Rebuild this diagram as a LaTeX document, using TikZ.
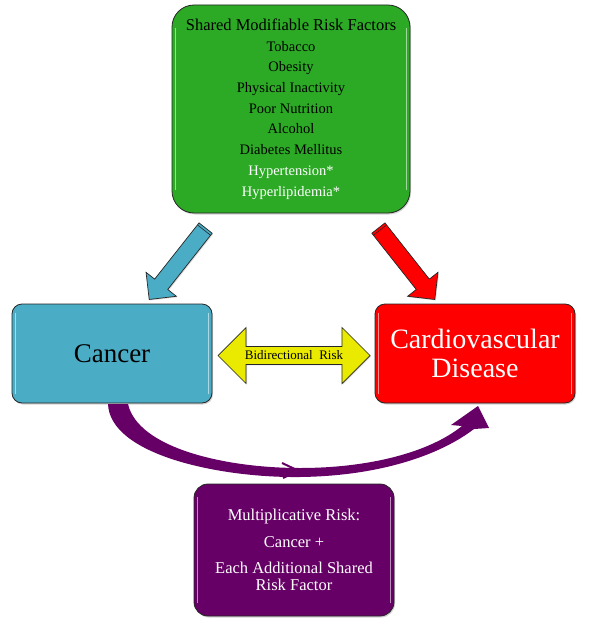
\documentclass[tikz,border=0pt]{standalone}
\usepackage{fontspec}
\setmainfont{Liberation Serif}
\usetikzlibrary{shapes.arrows,shadows,calc}
\definecolor{gr}{RGB}{44,170,38}
\definecolor{bl}{RGB}{75,172,198}
\definecolor{rd}{RGB}{255,0,0}
\definecolor{pu}{RGB}{102,0,102}
\definecolor{yl}{RGB}{234,234,0}
\begin{document}
\begin{tikzpicture}[x=1pt,y=-1pt,
  box/.style={draw=black!85, line width=0.8pt, rounded corners=#1,
    drop shadow={opacity=0.35,shadow xshift=1pt,shadow yshift=-1.5pt},
    align=center, inner sep=0pt},
  hl/.style={white, opacity=0.55, line width=1.6pt, line cap=round},
  blockarrow/.style={draw=black!85, line width=0.7pt, inner sep=0pt,
    drop shadow={opacity=0.3,shadow xshift=1pt,shadow yshift=-1pt}}]
\useasboundingbox (0,0) rectangle (590,626);

% boxes
\node[box=22, fill=gr, minimum width=238pt, minimum height=208pt,
  font=\fontsize{14.5}{20.7}\selectfont] (risk) at (291,109)
  {{\fontsize{16.5}{20.7}\selectfont Shared Modifiable Risk Factors}\\
   Tobacco\\Obesity\\Physical Inactivity\\Poor Nutrition\\Alcohol\\Diabetes Mellitus\\
   \textcolor{white}{Hypertension*}\\\textcolor{white}{Hyperlipidemia*}};

\node[box=10, fill=bl, minimum width=200pt, minimum height=99pt,
  font=\fontsize{27}{30}\selectfont] (cancer) at (112,353.5) {Cancer};

\node[box=10, fill=rd, text=white, minimum width=200pt, minimum height=99pt,
  font=\fontsize{28}{29}\selectfont] (cvd) at (475,353.5) {Cardiovascular\\Disease};

\node[box=14, fill=pu, text=white, minimum width=200pt, minimum height=132pt,
  font=\fontsize{16.5}{17}\selectfont] (mult) at (294,550)
  {Multiplicative Risk:\\[10pt]Cancer +\\[9pt]Each Additional Shared\\Risk Factor};

% gloss highlights
\foreach \n/\r in {risk/24,cancer/10,cvd/10,mult/14}{
  \draw[hl] ([xshift=4pt,yshift=-\r pt]\n.north west) -- ([xshift=4pt,yshift=\r pt]\n.south west);
  \draw[hl] ([xshift=-4pt,yshift=-\r pt]\n.north east) -- ([xshift=-4pt,yshift=\r pt]\n.south east);
}

% block arrows
\node[blockarrow, single arrow, fill=bl, minimum height=91pt, inner ysep=8pt,
  single arrow head extend=11pt, rotate=231.7] (a1) at (180,260.5) {};
\node[blockarrow, single arrow, fill=rd, minimum height=91pt, inner ysep=8pt,
  single arrow head extend=11pt, rotate=308.3] (a2) at (404,260.5) {};
\foreach \a in {a1,a2}{
  \draw[black!85, line width=0.6pt] ($(\a.after tail)!3pt!(\a.after head)$) -- ($(\a.before tail)!3pt!(\a.before head)$);
}

\node[blockarrow, double arrow, fill=yl, minimum height=152pt, minimum width=56pt,
  double arrow head extend=10.5pt, font=\fontsize{13}{15}\selectfont] (bi) at (294,355.5)
  {Bidirectional\ \ Risk};

% curved multiplicative arrow
\fill[pu] (108,404) .. controls (110,455) and (220,478) .. (300,477)
  .. controls (380,476) and (440,455) .. (474,429)
  -- (489,428) -- (478,406) -- (451,425) -- (462,426)
  .. controls (430,452) and (370,468) .. (300,468)
  .. controls (225,468) and (138,448) .. (128,404) -- cycle;
\draw[pu, line width=2pt, line join=miter] (282,463) -- (298,470.5) -- (283,478);
\end{tikzpicture}
\end{document}
